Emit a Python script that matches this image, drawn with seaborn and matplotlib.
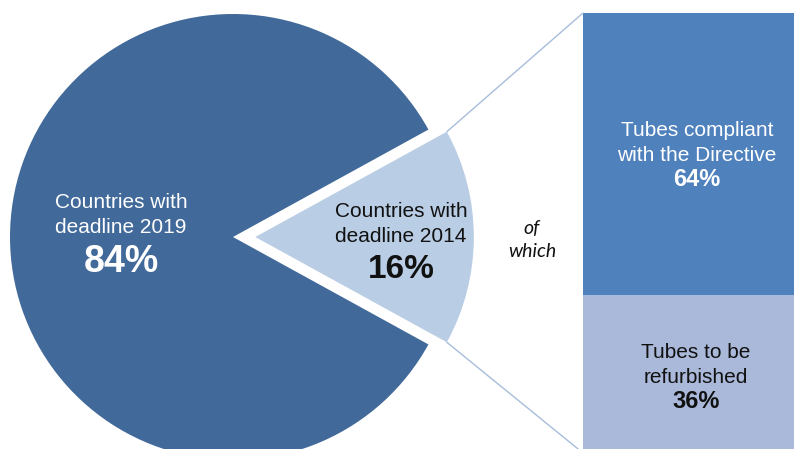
import matplotlib
matplotlib.use("Agg")
import matplotlib.pyplot as plt
from matplotlib.patches import ConnectionPatch
import numpy as np
import seaborn as sns

# data
pie_labels = ["Countries with\ndeadline 2014", "Countries with\ndeadline 2019"]
pie_values = [16, 84]
bar_labels = ["Tubes to be\nrefurbished", "Tubes compliant\nwith the Directive"]
bar_values = [36, 64]

# colours
pie_colors = ["#b9cde5", "#41699a"]
bar_colors = ["#aab9d9", "#4f81bd"]
line_color = "#a7bddb"

sns.set_theme(style="white")
plt.rcParams["font.family"] = ["Liberation Sans", "DejaVu Sans"]

W, H = 794, 449
fig = plt.figure(figsize=(W / 100, H / 100), dpi=100)

# pie axes covers the whole figure, 1 data unit = R pixels
R = 223.0
cx, cy = 233.0, 237.0
ax = fig.add_axes([0, 0, 1, 1])
half = pie_values[0] / 100 * 360 / 2
wedges, _ = ax.pie(pie_values, colors=pie_colors, explode=[0.1, 0],
                   startangle=-half, counterclock=True, radius=1.0,
                   wedgeprops=dict(linewidth=0))
wedges[0].set_radius(0.98)
ax.set_xlim(-cx / R, (W - cx) / R)
ax.set_ylim(-(H - cy) / R, cy / R)
ax.set_aspect("auto")
ax.axis("off")

# stacked bar on the right
bx0, bx1, by_top, by_bot = 583, 811, 13, 453
ax2 = fig.add_axes([bx0 / W, (H - by_bot) / H, (bx1 - bx0) / W, (by_bot - by_top) / H])
bottom = 0
for lab, val, col in zip(bar_labels, bar_values, bar_colors):
    sns.barplot(x=["share"], y=[val], bottom=bottom, color=col, width=1.0,
                saturation=1, edgecolor="none", linewidth=0, ax=ax2)
    bottom += val
ax2.set_xlim(-0.5, 0.5)
ax2.set_ylim(0, 100)
ax2.axis("off")

# connecting lines from exploded slice to bar corners
w = wedges[0]
for theta, ybar in [(w.theta2, 100), (w.theta1, 0)]:
    px = w.center[0] + w.r * np.cos(np.radians(theta))
    py = w.center[1] + w.r * np.sin(np.radians(theta))
    con = ConnectionPatch(xyA=(px, py), coordsA=ax.transData,
                          xyB=(-0.5, ybar), coordsB=ax2.transData,
                          color=line_color, linewidth=1.0)
    fig.add_artist(con)


def fx(px):
    return px / W


def fy(py):
    return 1 - py / H


txt = dict(ha="center", va="center", multialignment="center", linespacing=1.4)

# pie labels
fig.text(fx(121), fy(215), pie_labels[1], color="white", fontsize=15, **txt)
fig.text(fx(121), fy(262), f"{pie_values[1]}%", color="white", fontsize=27,
         fontweight="bold", ha="center", va="center")
fig.text(fx(401), fy(224), pie_labels[0], color="#111111", fontsize=15, **txt)
fig.text(fx(401), fy(270), f"{pie_values[0]}%", color="#111111", fontsize=24,
         fontweight="bold", ha="center", va="center")

# of which
fig.text(fx(532), fy(240), "of\nwhich", color="#111111", fontsize=14,
         fontstyle="italic", family=["Lato", "DejaVu Sans"], **txt)

# bar labels
fig.text(fx(697), fy(143), bar_labels[1], color="white", fontsize=15, **txt)
fig.text(fx(697), fy(180), f"{bar_values[1]}%", color="white", fontsize=17,
         fontweight="bold", ha="center", va="center")
fig.text(fx(696), fy(365), bar_labels[0], color="#111111", fontsize=15, **txt)
fig.text(fx(696), fy(402), f"{bar_values[0]}%", color="#111111", fontsize=17,
         fontweight="bold", ha="center", va="center")

fig.savefig("out.png", dpi=100, facecolor="white")
